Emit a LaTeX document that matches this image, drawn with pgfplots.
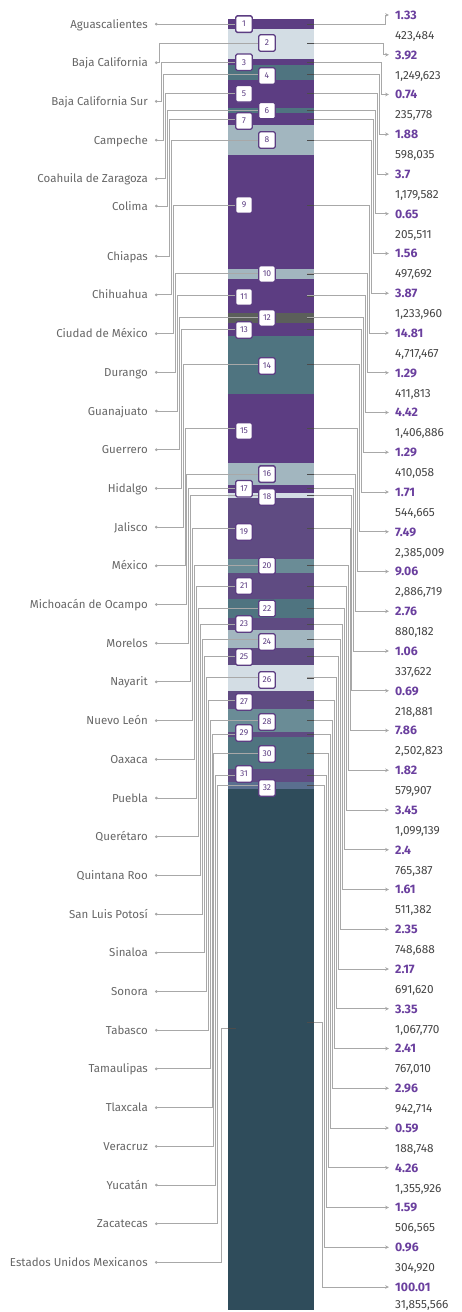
\documentclass[border=0pt]{standalone}
\usepackage{fontspec}
\setmainfont{Fira Sans}
\usepackage{pgfplots}
\pgfplotsset{compat=1.18}
\usetikzlibrary{arrows.meta}

\definecolor{cP}{HTML}{5C3D82}
\definecolor{cP2}{HTML}{5F4B82}
\definecolor{cL}{HTML}{D3DDE4}
\definecolor{cG}{HTML}{A2B6BF}
\definecolor{cT}{HTML}{4F7480}
\definecolor{cT2}{HTML}{6A8C96}
\definecolor{cD}{HTML}{5B5F5A}
\definecolor{cB}{HTML}{5A6F8F}
\definecolor{cE}{HTML}{2F4C5B}
\definecolor{lc}{HTML}{A8A8A8}
\definecolor{txt}{HTML}{666666}
\definecolor{cnt}{HTML}{454545}
\definecolor{pct}{HTML}{6A3F9E}

\tikzset{
  con/.style={draw=lc, line width=1pt},
  lcon/.style={con, {Circle[length=2.6pt]}-},
  rcon/.style={con, -{Stealth[length=3.8pt,width=3.6pt]}},
  box/.style={draw=cP, line width=1.3pt, fill=white, rounded corners=1.5pt,
    minimum size=16.5pt, inner sep=0pt, text=cP, font=\fontsize{8.5}{9}\selectfont},
  lab/.style={anchor=base east, yshift=-4pt, text=txt, inner sep=0pt,
    font=\fontsize{11.5}{13}\selectfont},
  pl/.style={anchor=base west, yshift=-4.3pt, text=pct, inner sep=0pt,
    font=\fontsize{12.3}{14}\selectfont\bfseries},
  cl/.style={anchor=base west, yshift=-4.3pt, text=cnt, inner sep=0pt,
    font=\fontsize{11.8}{13}\selectfont},
}

\begin{document}
\begin{tikzpicture}
% stacked bar, y in percent (7.7 px per percent, top of bar at 19 px)
\begin{axis}[at={(0,0)}, anchor=south west, scale only axis,
    width=462pt, height=1312pt,
    xmin=0, xmax=462, ymin=-2.467532, ymax=167.922078,
    y dir=reverse, hide axis,
    ybar stacked, bar width=86]
\addplot[fill=cP,  draw=none] coordinates {(271,1.33)};
\addplot[fill=cL,  draw=none] coordinates {(271,3.92)};
\addplot[fill=cP,  draw=none] coordinates {(271,0.74)};
\addplot[fill=cT,  draw=none] coordinates {(271,1.88)};
\addplot[fill=cP,  draw=none] coordinates {(271,3.70)};
\addplot[fill=cT,  draw=none] coordinates {(271,0.65)};
\addplot[fill=cP,  draw=none] coordinates {(271,1.56)};
\addplot[fill=cG,  draw=none] coordinates {(271,3.87)};
\addplot[fill=cP,  draw=none] coordinates {(271,14.81)};
\addplot[fill=cG,  draw=none] coordinates {(271,1.29)};
\addplot[fill=cP,  draw=none] coordinates {(271,4.42)};
\addplot[fill=cD,  draw=none] coordinates {(271,1.29)};
\addplot[fill=cP,  draw=none] coordinates {(271,1.71)};
\addplot[fill=cT,  draw=none] coordinates {(271,7.49)};
\addplot[fill=cP,  draw=none] coordinates {(271,9.06)};
\addplot[fill=cG,  draw=none] coordinates {(271,2.76)};
\addplot[fill=cP,  draw=none] coordinates {(271,1.06)};
\addplot[fill=cL,  draw=none] coordinates {(271,0.69)};
\addplot[fill=cP2, draw=none] coordinates {(271,7.86)};
\addplot[fill=cT2, draw=none] coordinates {(271,1.82)};
\addplot[fill=cP2, draw=none] coordinates {(271,3.45)};
\addplot[fill=cT,  draw=none] coordinates {(271,2.40)};
\addplot[fill=cP2, draw=none] coordinates {(271,1.61)};
\addplot[fill=cG,  draw=none] coordinates {(271,2.35)};
\addplot[fill=cP2, draw=none] coordinates {(271,2.17)};
\addplot[fill=cL,  draw=none] coordinates {(271,3.35)};
\addplot[fill=cP2, draw=none] coordinates {(271,2.41)};
\addplot[fill=cT2, draw=none] coordinates {(271,2.96)};
\addplot[fill=cP2, draw=none] coordinates {(271,0.59)};
\addplot[fill=cT,  draw=none] coordinates {(271,4.26)};
\addplot[fill=cP2, draw=none] coordinates {(271,1.59)};
\addplot[fill=cB,  draw=none] coordinates {(271,0.96)};
% national total, drawn to the bottom of the column
\addplot[fill=cE,  draw=none] coordinates {(271,67.65)};
\end{axis}

% leaders, boxes and labels, y in pixels from the top
\begin{axis}[at={(0,0)}, anchor=south west, scale only axis,
    width=462pt, height=1312pt,
    xmin=0, xmax=462, ymin=0, ymax=1312,
    y dir=reverse, hide axis, clip=false]
% left leaders
\addplot[lcon] coordinates {(155,24.1) (244,24.1)};
\addplot[lcon] coordinates {(155,62.7) (159.9,62.7) (159.9,43) (267,43)};
\addplot[lcon] coordinates {(155,101.4) (161.8,101.4) (161.8,62.3) (244,62.3)};
\addplot[lcon] coordinates {(155,140.1) (163.7,140.1) (163.7,74) (267,74)};
\addplot[lcon] coordinates {(155,178.8) (165.7,178.8) (165.7,93.8) (244,93.8)};
\addplot[lcon] coordinates {(155,206) (167.6,206) (167.6,110.6) (267,110.6)};
\addplot[lcon] coordinates {(155,256.2) (169.5,256.2) (169.5,119.1) (244,119.1)};
\addplot[lcon] coordinates {(155,294.9) (171.4,294.9) (171.4,140) (267,140)};
\addplot[lcon] coordinates {(155,333.6) (173.4,333.6) (173.4,205) (244,205)};
\addplot[lcon] coordinates {(155,372.3) (175.3,372.3) (175.3,273.9) (267,273.9)};
\addplot[lcon] coordinates {(155,411) (177.2,411) (177.2,295.9) (244,295.9)};
\addplot[lcon] coordinates {(155,449.7) (179.2,449.7) (179.2,317.9) (267,317.9)};
\addplot[lcon] coordinates {(155,488.4) (181.1,488.4) (181.1,329.4) (244,329.4)};
\addplot[lcon] coordinates {(155,527.1) (183,527.1) (183,364.8) (267,364.8)};
\addplot[lcon] coordinates {(155,565.8) (185,565.8) (185,428.6) (244,428.6)};
\addplot[lcon] coordinates {(155,604.5) (186.9,604.5) (186.9,474.1) (267,474.1)};
\addplot[lcon] coordinates {(155,643.2) (188.8,643.2) (188.8,488.8) (244,488.8)};
\addplot[lcon] coordinates {(155,681.9) (190.7,681.9) (190.7,495.5) (267,495.5)};
\addplot[lcon] coordinates {(155,720.6) (192.7,720.6) (192.7,528.4) (244,528.4)};
\addplot[lcon] coordinates {(155,759.3) (194.6,759.3) (194.6,565.7) (267,565.7)};
\addplot[lcon] coordinates {(155,798) (196.5,798) (196.5,586) (244,586)};
\addplot[lcon] coordinates {(155,836.7) (198.5,836.7) (198.5,608.5) (267,608.5)};
\addplot[lcon] coordinates {(155,875.4) (200.4,875.4) (200.4,624) (244,624)};
\addplot[lcon] coordinates {(155,914.1) (202.3,914.1) (202.3,639.2) (267,639.2)};
\addplot[lcon] coordinates {(155,952.8) (204.3,952.8) (204.3,656.6) (244,656.6)};
\addplot[lcon] coordinates {(155,991.5) (206.2,991.5) (206.2,677.9) (267,677.9)};
\addplot[lcon] coordinates {(155,1030.2) (208.1,1030.2) (208.1,700) (244,700)};
\addplot[lcon] coordinates {(155,1068.9) (210,1068.9) (210,720.7) (267,720.7)};
\addplot[lcon] coordinates {(155,1107.6) (212,1107.6) (212,734.4) (244,734.4)};
\addplot[lcon] coordinates {(155,1146.3) (213.9,1146.3) (213.9,753) (267,753)};
\addplot[lcon] coordinates {(155,1185) (215.8,1185) (215.8,775.6) (244,775.6)};
\addplot[lcon] coordinates {(155,1223.7) (217.8,1223.7) (217.8,785.4) (267,785.4)};
\addplot[lcon] coordinates {(155,1262.4) (221,1262.4) (221,1028) (236,1028)};
% right leaders
\addplot[rcon] coordinates {(307,24.1) (385,24.1) (385,15) (389,15)};
\addplot[rcon] coordinates {(307,43) (383.1,43) (383.1,54.75) (389,54.75)};
\addplot[rcon] coordinates {(307,62.3) (381.2,62.3) (381.2,94.5) (389,94.5)};
\addplot[rcon] coordinates {(307,74) (379.2,74) (379.2,134.25) (389,134.25)};
\addplot[rcon] coordinates {(307,93.8) (377.3,93.8) (377.3,174) (389,174)};
\addplot[rcon] coordinates {(307,110.6) (375.3,110.6) (375.3,213.75) (389,213.75)};
\addplot[rcon] coordinates {(307,119.1) (373.4,119.1) (373.4,253.5) (389,253.5)};
\addplot[rcon] coordinates {(307,140) (371.4,140) (371.4,293.25) (389,293.25)};
\addplot[rcon] coordinates {(307,205) (369.5,205) (369.5,333) (389,333)};
\addplot[rcon] coordinates {(307,273.9) (367.5,273.9) (367.5,372.75) (389,372.75)};
\addplot[rcon] coordinates {(307,295.9) (365.6,295.9) (365.6,412.5) (389,412.5)};
\addplot[rcon] coordinates {(307,317.9) (363.6,317.9) (363.6,452.25) (389,452.25)};
\addplot[rcon] coordinates {(307,329.4) (361.7,329.4) (361.7,492) (389,492)};
\addplot[rcon] coordinates {(307,364.8) (359.7,364.8) (359.7,531.75) (389,531.75)};
\addplot[rcon] coordinates {(307,428.6) (357.8,428.6) (357.8,571.5) (389,571.5)};
\addplot[rcon] coordinates {(307,474.1) (355.8,474.1) (355.8,611.25) (389,611.25)};
\addplot[rcon] coordinates {(307,488.8) (353.9,488.8) (353.9,651) (389,651)};
\addplot[rcon] coordinates {(307,495.5) (351.9,495.5) (351.9,690.75) (389,690.75)};
\addplot[rcon] coordinates {(307,528.4) (350,528.4) (350,730.5) (389,730.5)};
\addplot[rcon] coordinates {(307,565.7) (348,565.7) (348,770.25) (389,770.25)};
\addplot[rcon] coordinates {(307,586) (346.1,586) (346.1,810) (389,810)};
\addplot[rcon] coordinates {(307,608.5) (344.1,608.5) (344.1,849.75) (389,849.75)};
\addplot[rcon] coordinates {(307,624) (342.2,624) (342.2,889.5) (389,889.5)};
\addplot[rcon] coordinates {(307,639.2) (340.2,639.2) (340.2,929.25) (389,929.25)};
\addplot[rcon] coordinates {(307,656.6) (338.3,656.6) (338.3,969) (389,969)};
\addplot[rcon] coordinates {(307,677.9) (336.3,677.9) (336.3,1008.75) (389,1008.75)};
\addplot[rcon] coordinates {(307,700) (334.4,700) (334.4,1048.5) (389,1048.5)};
\addplot[rcon] coordinates {(307,720.7) (332.4,720.7) (332.4,1088.25) (389,1088.25)};
\addplot[rcon] coordinates {(307,734.4) (330.5,734.4) (330.5,1128) (389,1128)};
\addplot[rcon] coordinates {(307,753) (328.5,753) (328.5,1167.75) (389,1167.75)};
\addplot[rcon] coordinates {(307,775.6) (326.6,775.6) (326.6,1207.5) (389,1207.5)};
\addplot[rcon] coordinates {(307,785.4) (324.6,785.4) (324.6,1247.25) (389,1247.25)};
\addplot[rcon] coordinates {(307,1022) (322,1022) (322,1287) (389,1287)};
% dark ticks where the right leaders leave the column
\addplot[only marks, mark=-, mark size=3.5pt, mark options={draw=black!70, line width=0.8pt}]
  coordinates {(310.5,24.1) (310.5,43) (310.5,62.3) (310.5,74) (310.5,93.8)
  (310.5,110.6) (310.5,119.1) (310.5,140) (310.5,205) (310.5,273.9)
  (310.5,295.9) (310.5,317.9) (310.5,329.4) (310.5,364.8) (310.5,428.6)
  (310.5,474.1) (310.5,488.8) (310.5,495.5) (310.5,528.4) (310.5,565.7)
  (310.5,586) (310.5,608.5) (310.5,624) (310.5,639.2) (310.5,656.6)
  (310.5,677.9) (310.5,700) (310.5,720.7) (310.5,734.4) (310.5,753)
  (310.5,775.6) (310.5,785.4) (310.5,1022)};
\addplot[only marks, mark=-, mark size=4pt, mark options={draw=black!70, line width=0.8pt}]
  coordinates {(232,1028)};

% numbered boxes
\node[box] at (244,24.1) {1};
\node[box] at (267,43) {2};
\node[box] at (244,62.3) {3};
\node[box] at (267,76) {4};
\node[box] at (244,93.8) {5};
\node[box] at (267,110.6) {6};
\node[box] at (244,121) {7};
\node[box] at (267,140) {8};
\node[box] at (244,205) {9};
\node[box] at (267,273.9) {10};
\node[box] at (244,297) {11};
\node[box] at (267,317.9) {12};
\node[box] at (244,330) {13};
\node[box] at (267,366) {14};
\node[box] at (244,431) {15};
\node[box] at (267,474.1) {16};
\node[box] at (244,488.8) {17};
\node[box] at (267,497) {18};
\node[box] at (244,532) {19};
\node[box] at (267,565.7) {20};
\node[box] at (244,586) {21};
\node[box] at (267,608.5) {22};
\node[box] at (244,624) {23};
\node[box] at (267,642) {24};
\node[box] at (244,657) {25};
\node[box] at (267,680) {26};
\node[box] at (244,702) {27};
\node[box] at (267,722) {28};
\node[box] at (244,733) {29};
\node[box] at (267,754) {30};
\node[box] at (244,774) {31};
\node[box] at (267,788) {32};

% state names
\node[lab] at (148,24.1) {Aguascalientes};
\node[lab] at (148,62.7) {Baja California};
\node[lab] at (148,101.4) {Baja California Sur};
\node[lab] at (148,140.1) {Campeche};
\node[lab] at (148,178.8) {Coahuila de Zaragoza};
\node[lab] at (148,206) {Colima};
\node[lab] at (148,256.2) {Chiapas};
\node[lab] at (148,294.9) {Chihuahua};
\node[lab] at (148,333.6) {Ciudad de México};
\node[lab] at (148,372.3) {Durango};
\node[lab] at (148,411) {Guanajuato};
\node[lab] at (148,449.7) {Guerrero};
\node[lab] at (148,488.4) {Hidalgo};
\node[lab] at (148,527.1) {Jalisco};
\node[lab] at (148,565.8) {México};
\node[lab] at (148,604.5) {Michoacán de Ocampo};
\node[lab] at (148,643.2) {Morelos};
\node[lab] at (148,681.9) {Nayarit};
\node[lab] at (148,720.6) {Nuevo León};
\node[lab] at (148,759.3) {Oaxaca};
\node[lab] at (148,798) {Puebla};
\node[lab] at (148,836.7) {Querétaro};
\node[lab] at (148,875.4) {Quintana Roo};
\node[lab] at (148,914.1) {San Luis Potosí};
\node[lab] at (148,952.8) {Sinaloa};
\node[lab] at (148,991.5) {Sonora};
\node[lab] at (148,1030.2) {Tabasco};
\node[lab] at (148,1068.9) {Tamaulipas};
\node[lab] at (148,1107.6) {Tlaxcala};
\node[lab] at (148,1146.3) {Veracruz};
\node[lab] at (148,1185) {Yucatán};
\node[lab] at (148,1223.7) {Zacatecas};
\node[lab] at (148,1262.4) {Estados Unidos Mexicanos};

% percentages and population
\node[pl] at (395,15) {1.33};       \node[cl] at (395,35) {423,484};
\node[pl] at (395,54.75) {3.92};    \node[cl] at (395,74.75) {1,249,623};
\node[pl] at (395,94.5) {0.74};     \node[cl] at (395,114.5) {235,778};
\node[pl] at (395,134.25) {1.88};   \node[cl] at (395,154.25) {598,035};
\node[pl] at (395,174) {3.7};       \node[cl] at (395,194) {1,179,582};
\node[pl] at (395,213.75) {0.65};   \node[cl] at (395,233.75) {205,511};
\node[pl] at (395,253.5) {1.56};    \node[cl] at (395,273.5) {497,692};
\node[pl] at (395,293.25) {3.87};   \node[cl] at (395,313.25) {1,233,960};
\node[pl] at (395,333) {14.81};     \node[cl] at (395,353) {4,717,467};
\node[pl] at (395,372.75) {1.29};   \node[cl] at (395,392.75) {411,813};
\node[pl] at (395,412.5) {4.42};    \node[cl] at (395,432.5) {1,406,886};
\node[pl] at (395,452.25) {1.29};   \node[cl] at (395,472.25) {410,058};
\node[pl] at (395,492) {1.71};      \node[cl] at (395,512) {544,665};
\node[pl] at (395,531.75) {7.49};   \node[cl] at (395,551.75) {2,385,009};
\node[pl] at (395,571.5) {9.06};    \node[cl] at (395,591.5) {2,886,719};
\node[pl] at (395,611.25) {2.76};   \node[cl] at (395,631.25) {880,182};
\node[pl] at (395,651) {1.06};      \node[cl] at (395,671) {337,622};
\node[pl] at (395,690.75) {0.69};   \node[cl] at (395,710.75) {218,881};
\node[pl] at (395,730.5) {7.86};    \node[cl] at (395,750.5) {2,502,823};
\node[pl] at (395,770.25) {1.82};   \node[cl] at (395,790.25) {579,907};
\node[pl] at (395,810) {3.45};      \node[cl] at (395,830) {1,099,139};
\node[pl] at (395,849.75) {2.4};    \node[cl] at (395,869.75) {765,387};
\node[pl] at (395,889.5) {1.61};    \node[cl] at (395,909.5) {511,382};
\node[pl] at (395,929.25) {2.35};   \node[cl] at (395,949.25) {748,688};
\node[pl] at (395,969) {2.17};      \node[cl] at (395,989) {691,620};
\node[pl] at (395,1008.75) {3.35};  \node[cl] at (395,1028.75) {1,067,770};
\node[pl] at (395,1048.5) {2.41};   \node[cl] at (395,1068.5) {767,010};
\node[pl] at (395,1088.25) {2.96};  \node[cl] at (395,1108.25) {942,714};
\node[pl] at (395,1128) {0.59};     \node[cl] at (395,1148) {188,748};
\node[pl] at (395,1167.75) {4.26};  \node[cl] at (395,1187.75) {1,355,926};
\node[pl] at (395,1207.5) {1.59};   \node[cl] at (395,1227.5) {506,565};
\node[pl] at (395,1247.25) {0.96};  \node[cl] at (395,1267.25) {304,920};
\node[pl] at (395,1287) {100.01};   \node[cl] at (395,1304) {31,855,566};
\end{axis}
\pgfresetboundingbox
\path[use as bounding box] (0,0) rectangle (462pt,1312pt);
\end{tikzpicture}
\end{document}
